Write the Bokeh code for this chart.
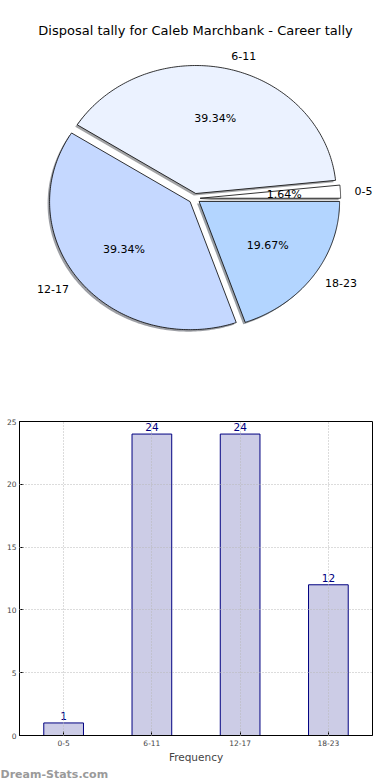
import numpy as np
from bokeh.plotting import figure
from bokeh.models import Range1d, Label, FixedTicker, Title
from bokeh.layouts import column
from bokeh.embed import file_html
from bokeh.resources import INLINE
from bokeh.core.properties import value

# ---------------- data ----------------
title_text = "Disposal tally for Caleb Marchbank - Career tally"
categories = ["0-5", "6-11", "12-17", "18-23"]
counts = [1, 24, 24, 12]
slice_colors = ["#ffffff", "#ebf2ff", "#c5d8ff", "#b3d5ff"]
y_ticks = [0, 5, 10, 15, 20, 25]
x_label = "Frequency"
watermark = "Dream-Stats.com"

FONT = "DejaVu Sans"

# shared horizontal frame (both figures align their frames in the column)
BL, BR = 19, 2
W = 374

# ---------------- pie ----------------
H1 = 398
RX, RY = 140.5, 128.0      # pixels per radius unit (x / y)
CX, CY = 194.0, 198.0      # pie centre, canvas px from top-left
p1 = figure(width=W, height=H1, output_backend="svg", toolbar_location=None,
            x_range=Range1d((BL - CX) / RX, (W - BR - CX) / RX),
            y_range=Range1d(-(H1 - CY) / RY, CY / RY),
            x_axis_type=None, y_axis_type=None,
            min_border_left=BL, min_border_right=BR, min_border_top=0, min_border_bottom=0)
p1.grid.visible = False
p1.outline_line_color = None

total = float(sum(counts))
fracs = np.array(counts) / total
ends = np.cumsum(fracs) * 2 * np.pi
starts = ends - fracs * 2 * np.pi
explode = 0.04
sdx, sdy = -2.0 / RX, -2.0 / RY

slice_xs, slice_ys, shadow_xs, shadow_ys, shadow_cols = [], [], [], [], []
for s, e, c in zip(starts, ends, slice_colors):
    mid = (s + e) / 2
    ox, oy = explode * np.cos(mid), explode * np.sin(mid)
    t = np.linspace(s, e, 150)
    xs = np.concatenate([[ox], ox + np.cos(t), [ox]])
    ys = np.concatenate([[oy], oy + np.sin(t), [oy]])
    slice_xs.append(list(xs))
    slice_ys.append(list(ys))
    shadow_xs.append(list(xs + sdx))
    shadow_ys.append(list(ys + sdy))
    r, g, b = int(c[1:3], 16), int(c[3:5], 16), int(c[5:7], 16)
    shadow_cols.append("#%02x%02x%02x" % (int(r * 0.3), int(g * 0.3), int(b * 0.3)))

p1.patches(shadow_xs, shadow_ys, fill_color=shadow_cols, fill_alpha=0.5, line_color=None)
p1.patches(slice_xs, slice_ys, fill_color=slice_colors, line_color="black", line_width=0.8)

for s, e, cat, f in zip(starts, ends, categories, fracs):
    mid = (s + e) / 2
    cx, cy = explode * np.cos(mid), explode * np.sin(mid)
    lx, ly = cx + 1.1 * np.cos(mid), cy + 1.1 * np.sin(mid)
    align = "left" if np.cos(mid) > 0 else "right"
    p1.text(x=[lx], y=[ly], text=[cat], text_align=align, text_baseline="middle",
            text_font=value(FONT), text_font_size="11px", text_color="black")
    px, py = cx + 0.6 * np.cos(mid), cy + 0.6 * np.sin(mid)
    p1.text(x=[px], y=[py], text=["%.2f%%" % (f * 100)], text_align="center",
            text_baseline="middle", text_font=value(FONT), text_font_size="11px",
            text_color="black")

p1.add_layout(Label(x=195 - BL, y=H1 - 30, x_units="screen", y_units="screen",
                    text=title_text, text_align="center", text_baseline="middle",
                    text_font=FONT, text_font_size="13px", text_color="black"))

# ---------------- bar chart ----------------
H2 = 382
p2 = figure(width=W, height=H2, output_backend="svg", toolbar_location=None,
            x_range=categories, y_range=Range1d(0, 25),
            min_border_left=BL, min_border_right=BR, min_border_top=23, min_border_bottom=30)
p2.outline_line_color = "black"
p2.background_fill_color = "white"

p2.vbar(x=categories, top=counts, width=0.45, fill_color="#ccccE6",
        line_color="#000080", line_width=1)
p2.text(x=categories, y=counts, text=[str(c) for c in counts], text_align="center",
        text_baseline="bottom", y_offset=-3, text_font=value(FONT),
        text_font_size="10.5px", text_color="#000080")

for g in (p2.xgrid, p2.ygrid):
    g.grid_line_color = "#b8b8b8"
    g.grid_line_dash = "1 2"
    g.grid_line_width = 1
p2.xgrid.level = "overlay"
p2.ygrid.level = "overlay"

xa = p2.xaxis[0]
xa.major_tick_in = 4
xa.major_tick_out = 0
xa.major_label_standoff = 4
xa.major_label_text_font = FONT
xa.major_label_text_font_size = "7.5px"
xa.axis_label = x_label
xa.axis_label_text_font = FONT
xa.axis_label_text_font_size = "10.5px"
xa.axis_label_text_font_style = "normal"
xa.axis_label_standoff = 2
xa.axis_line_color = "black"

ya = p2.yaxis[0]
ya.ticker = FixedTicker(ticks=y_ticks)
ya.major_tick_in = 4
ya.major_tick_out = 0
ya.minor_tick_line_color = None
ya.major_label_standoff = 3
ya.major_label_text_font = FONT
ya.major_label_text_font_size = "7.5px"
ya.axis_line_color = "black"

p2.add_layout(Title(text=watermark, align="left", offset=-BL, text_font=FONT,
                    text_font_size="11px", text_font_style="bold",
                    text_color="#9a9a9a", standoff=0, text_line_height=0.4), "below")

layout = column(p1, p2, spacing=0)
open("out.html", "w").write(file_html(layout, INLINE))
